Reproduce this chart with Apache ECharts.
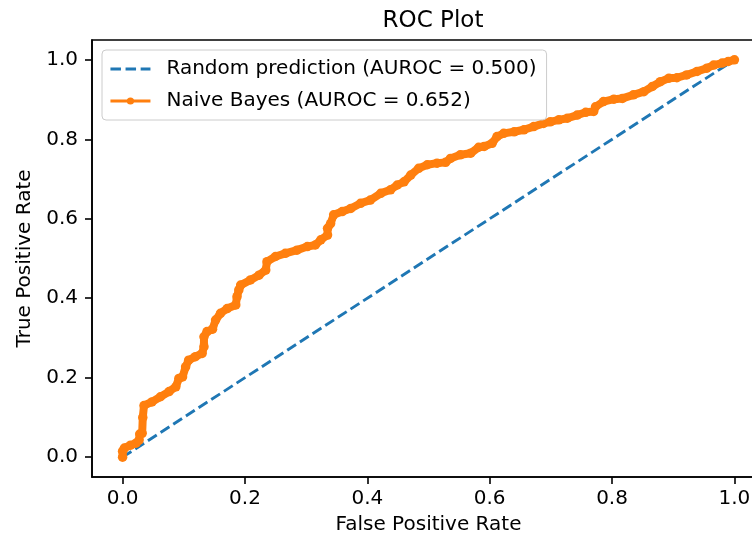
<!DOCTYPE html>
<html><head><meta charset="utf-8">
<script src="https://cdn.jsdelivr.net/npm/echarts@6/dist/echarts.min.js"></script>
<style>html,body{margin:0;padding:0;background:#fff;overflow:hidden}#c{width:766px;height:540px}</style>
</head><body><div id="c"></div>
<script>
const titleText = 'ROC Plot';
const xName = 'False Positive Rate';
const yName = 'True Positive Rate';
const tickValues = [0, 0.2, 0.4, 0.6, 0.8, 1.0];
const randomName = 'Random prediction (AUROC = 0.500)';
const nbName = 'Naive Bayes (AUROC = 0.652)';
const randomFpr = [0, 1];
const randomTpr = [0, 1];
const nbFpr = [0.000,0.000,0.003,0.013,0.022,0.027,0.028,0.032,0.033,0.035,0.048,0.062,0.076,0.087,0.092,0.098,0.103,0.108,0.119,0.130,0.133,0.133,0.138,0.147,0.152,0.160,0.171,0.185,0.187,0.190,0.193,0.209,0.223,0.234,0.236,0.250,0.266,0.285,0.302,0.315,0.324,0.335,0.335,0.340,0.345,0.359,0.373,0.389,0.405,0.422,0.438,0.449,0.460,0.471,0.484,0.498,0.514,0.528,0.536,0.552,0.569,0.582,0.591,0.604,0.612,0.623,0.640,0.656,0.672,0.688,0.699,0.713,0.727,0.743,0.757,0.770,0.773,0.786,0.803,0.817,0.835,0.852,0.866,0.879,0.893,0.906,0.922,0.939,0.955,0.966,0.980,0.990,1.000];
const nbTpr = [0.000,0.015,0.023,0.030,0.035,0.043,0.058,0.060,0.100,0.130,0.139,0.152,0.165,0.177,0.198,0.202,0.227,0.244,0.253,0.261,0.278,0.303,0.316,0.322,0.345,0.362,0.374,0.383,0.404,0.421,0.433,0.446,0.458,0.471,0.492,0.505,0.513,0.521,0.530,0.534,0.547,0.559,0.576,0.588,0.610,0.618,0.626,0.639,0.647,0.664,0.673,0.685,0.693,0.710,0.727,0.736,0.740,0.742,0.752,0.761,0.765,0.780,0.782,0.790,0.807,0.815,0.819,0.824,0.832,0.840,0.844,0.849,0.853,0.861,0.868,0.870,0.882,0.895,0.901,0.903,0.912,0.920,0.933,0.945,0.954,0.955,0.962,0.971,0.979,0.987,0.992,0.996,1.000];

const FONT = 'DejaVu Sans';
const FS = 20;
const chart = echarts.init(document.getElementById('c'), null, {renderer: 'canvas'});
const axisCommon = {
  type: 'value', min: -0.05, max: 1.05,
  splitLine: {show: false},
  axisLine: {show: true, onZero: false, lineStyle: {color: '#000', width: 1.6}},
  axisTick: {show: true, inside: false, length: 7, customValues: tickValues, lineStyle: {color: '#000', width: 1.6}},
  axisLabel: {customValues: tickValues, color: '#000', fontFamily: FONT, fontSize: FS,
    formatter: v => v.toFixed(1)},
  nameLocation: 'middle',
  nameTextStyle: {color: '#000', fontFamily: FONT, fontSize: FS}
};
chart.setOption({
  animation: false,
  backgroundColor: '#fff',
  title: {text: titleText, left: 428, top: 5, textAlign: 'center',
    textStyle: {color: '#000', fontFamily: FONT, fontSize: 23, fontWeight: 'normal'}},
  grid: {left: 92, top: 40, right: 1, bottom: 63, show: true, borderColor: '#000', borderWidth: 1.6, containLabel: false},
  xAxis: Object.assign({}, axisCommon, {name: xName, nameGap: 38,
    axisLabel: Object.assign({}, axisCommon.axisLabel, {margin: 12})}),
  yAxis: Object.assign({}, axisCommon, {name: yName, nameGap: 54, nameRotate: 90,
    axisLabel: Object.assign({}, axisCommon.axisLabel, {margin: 14})}),
  legend: {
    orient: 'vertical', left: 102, top: 50,
    backgroundColor: 'rgba(255,255,255,0.8)', borderColor: '#cccccc', borderWidth: 1, borderRadius: 4,
    padding: [8, 10, 8, 7], itemGap: 10, itemWidth: 40, itemHeight: 9,
    textStyle: {color: '#000', fontFamily: FONT, fontSize: FS, lineHeight: 22, padding: [0, 0, 0, 11]},
    data: [
      {name: randomName, lineStyle: {width: 2.9}, itemStyle: {opacity: 0}},
      {name: nbName, lineStyle: {width: 2.9}}
    ]
  },
  series: [
    {name: randomName, type: 'line', data: randomFpr.map((x, i) => [x, randomTpr[i]]),
      showSymbol: false, symbol: 'none', color: '#1f77b4',
      lineStyle: {color: '#1f77b4', width: 2.9, type: [10.5, 4.6]}, z: 2},
    {name: nbName, type: 'line', data: nbFpr.map((x, i) => [x, nbTpr[i]]),
      symbol: 'circle', symbolSize: 9.5, showAllSymbol: true, color: '#ff7f0e',
      itemStyle: {color: '#ff7f0e'},
      lineStyle: {color: '#ff7f0e', width: 8}, z: 3}
  ]
});
</script></body></html>
